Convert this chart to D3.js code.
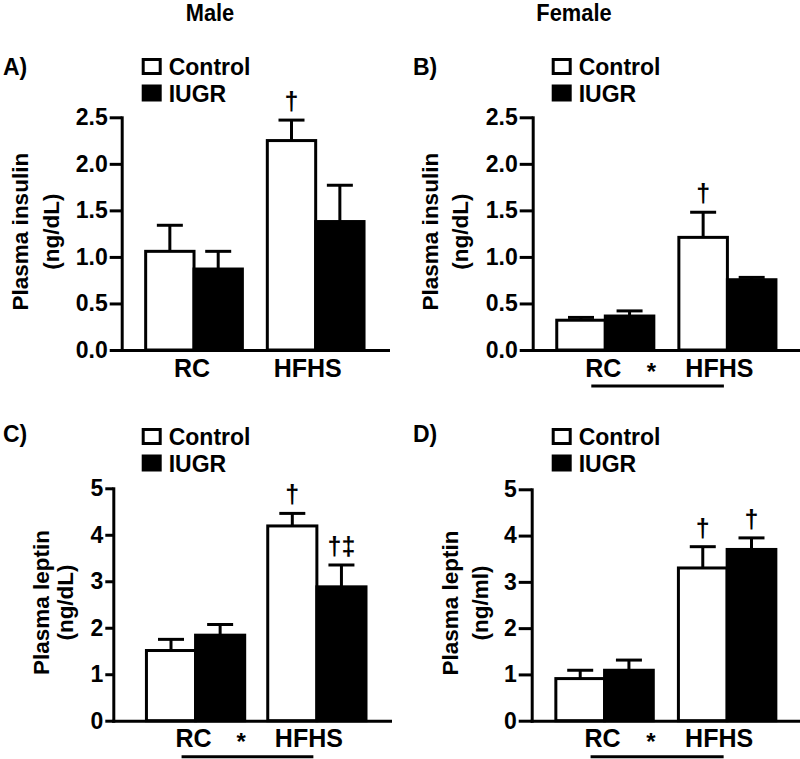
<!DOCTYPE html>
<html><head><meta charset="utf-8">
<script src="https://cdn.jsdelivr.net/npm/d3@7"></script>
<style>body{margin:0;background:#fff} svg{display:block}</style>
</head><body><svg id="c" width="800" height="759"></svg>
<script>
// ---------- data ----------
const categories = ["RC", "HFHS"];
const seriesNames = ["Control", "IUGR"];
const columnHeaders = ["Male", "Female"];
const panelLetters = ["A)", "B)", "C)", "D)"];
const yLabelLine1 = ["Plasma insulin", "Plasma insulin", "Plasma leptin", "Plasma leptin"];
const yLabelLine2 = ["(ng/dL)", "(ng/dL)", "(ng/dL)", "(ng/ml)"];
const insulinTicks = [0, 0.5, 1.0, 1.5, 2.0, 2.5];
const leptinTicks = [0, 1, 2, 3, 4, 5];

const maleInsulinControl = [1.06, 2.25];
const maleInsulinControlSEM = [0.28, 0.22];
const maleInsulinIUGR = [0.87, 1.38];
const maleInsulinIUGRSEM = [0.19, 0.39];

const femaleInsulinControl = [0.32, 1.21];
const femaleInsulinControlSEM = [0.03, 0.27];
const femaleInsulinIUGR = [0.365, 0.755];
const femaleInsulinIUGRSEM = [0.055, 0.025];

const maleLeptinControl = [1.51, 4.19];
const maleLeptinControlSEM = [0.24, 0.27];
const maleLeptinIUGR = [1.84, 2.88];
const maleLeptinIUGRSEM = [0.23, 0.47];

const femaleLeptinControl = [0.91, 3.30];
const femaleLeptinControlSEM = [0.18, 0.46];
const femaleLeptinIUGR = [1.09, 3.70];
const femaleLeptinIUGRSEM = [0.22, 0.25];

// significance symbols: [category, series, symbol]
const marksA = [["HFHS", "Control", "†"]];
const marksB = [["HFHS", "Control", "†"]];
const marksC = [["HFHS", "Control", "†"], ["HFHS", "IUGR", "†‡"]];
const marksD = [["HFHS", "Control", "†"], ["HFHS", "IUGR", "†"]];
const dietEffect = [false, true, true, true];

// ---------- layout ----------
const FONT = "'Liberation Sans', Arial, Helvetica, sans-serif";
const panels = [
  {means:[maleInsulinControl, maleInsulinIUGR], sems:[maleInsulinControlSEM, maleInsulinIUGRSEM], ticks:insulinTicks, fmt:".1f", marks:marksA,
   L:{x0:121.7, x1:388, y0:350, yTop:117.3, pi:0.205, po:0.197, align:0.5, tick:12, letterX:3, letterY:75, legX:141.7, legY:58, yl1:28, yl2:59}},
  {means:[femaleInsulinControl, femaleInsulinIUGR], sems:[femaleInsulinControlSEM, femaleInsulinIUGRSEM], ticks:insulinTicks, fmt:".1f", marks:marksB,
   L:{x0:532.7, x1:800, y0:350, yTop:117.3, pi:0.205, po:0.197, align:0.5, tick:13, letterX:413, letterY:75, legX:551.7, legY:58, yl1:438, yl2:468}},
  {means:[maleLeptinControl, maleLeptinIUGR], sems:[maleLeptinControlSEM, maleLeptinIUGRSEM], ticks:leptinTicks, fmt:"d", marks:marksC,
   L:{x0:113.3, x1:390, y0:720.7, yTop:488.3, pi:0.19, po:0.2355, align:0.58, tick:8, letterX:3, letterY:442, legX:141.7, legY:428, yl1:49, yl2:73}},
  {means:[femaleLeptinControl, femaleLeptinIUGR], sems:[femaleLeptinControlSEM, femaleLeptinIUGRSEM], ticks:leptinTicks, fmt:"d", marks:marksD,
   L:{x0:531.7, x1:800, y0:720.7, yTop:489.3, pi:0.205, po:0.197, align:0.5, tick:13, letterX:413, letterY:442, legX:551.7, legY:428, yl1:458, yl2:488}}
];
const labelShift = {RC: -2, HFHS: -8};
const fills = {Control: "#fff", IUGR: "#000"};

const svg = d3.select("#c");
svg.append("rect").attr("width", 800).attr("height", 759).attr("fill", "#fff");

// column headers
[210, 574].forEach((cx, i) => {
  svg.append("text").attr("x", cx).attr("y", 21.5).attr("text-anchor", "middle")
    .attr("font-family", FONT).attr("font-weight", "bold").attr("font-size", 23)
    .attr("transform", `translate(${cx},21.5) scale(0.95,1.08) translate(${-cx},-21.5)`)
    .text(columnHeaders[i]);
});

panels.forEach((p, pi) => {
  const L = p.L;
  const g = svg.append("g");
  const x = d3.scaleBand().domain(categories).range([L.x0, L.x1])
    .paddingInner(L.pi).paddingOuter(L.po).align(L.align);
  const xs = d3.scaleBand().domain(seriesNames).range([0, x.bandwidth()]);
  const y = d3.scaleLinear().domain([0, d3.max(p.ticks)]).range([L.y0, L.yTop]);

  const rows = [];
  categories.forEach((c, i) => seriesNames.forEach((s, j) => rows.push({c, s, v: p.means[j][i], e: p.sems[j][i]})));

  // error bars (upper only)
  const eb = g.append("g").attr("stroke", "#000").attr("stroke-width", 3);
  rows.forEach(r => {
    const cx = x(r.c) + xs(r.s) + xs.bandwidth() / 2;
    eb.append("line").attr("x1", cx).attr("x2", cx).attr("y1", y(r.v)).attr("y2", y(r.v + r.e));
    eb.append("line").attr("x1", cx - 13).attr("x2", cx + 13).attr("y1", y(r.v + r.e)).attr("y2", y(r.v + r.e));
  });

  // bars
  g.append("g").selectAll("rect").data(rows).join("rect")
    .attr("x", r => x(r.c) + xs(r.s)).attr("width", xs.bandwidth())
    .attr("y", r => y(r.v)).attr("height", r => L.y0 - y(r.v))
    .attr("fill", r => fills[r.s]).attr("stroke", "#000").attr("stroke-width", 3);

  // y axis
  const ya = g.append("g").attr("transform", `translate(${L.x0},0)`)
    .call(d3.axisLeft(y).tickValues(p.ticks).tickFormat(d3.format(p.fmt))
      .tickSize(L.tick).tickSizeOuter(0).tickPadding(2));
  ya.select(".domain").attr("stroke-width", 3).attr("stroke-linecap", "square");
  ya.selectAll(".tick line").attr("stroke-width", 3);
  ya.selectAll(".tick text").attr("font-family", FONT).attr("font-weight", "bold")
    .attr("font-size", 23).attr("fill", "#000");

  // x axis
  const xa = g.append("g").attr("transform", `translate(0,${L.y0})`)
    .call(d3.axisBottom(x).tickSize(0).tickSizeOuter(0).tickPadding(9));
  xa.select(".domain").attr("stroke-width", 3).attr("stroke-linecap", "square");
  xa.selectAll(".tick text").attr("font-family", FONT).attr("font-weight", "bold")
    .attr("font-size", 25).attr("fill", "#000").attr("dx", d => labelShift[d]);

  // y label
  const ym = (L.y0 + L.yTop) / 2 - 2;
  [[L.yl1, yLabelLine1[pi]], [L.yl2, yLabelLine2[pi]]].forEach(([bx, t]) => {
    g.append("text").attr("transform", `translate(${bx},${ym}) rotate(-90)`)
      .attr("text-anchor", "middle").attr("font-family", FONT).attr("font-weight", "bold")
      .attr("font-size", 22.5).text(t);
  });

  // panel letter
  g.append("text").attr("x", L.letterX).attr("y", L.letterY).attr("font-family", FONT)
    .attr("font-weight", "bold").attr("font-size", 23).text(panelLetters[pi]);

  // legend
  seriesNames.forEach((s, j) => {
    const top = L.legY + j * 26.5;
    g.append("rect").attr("x", L.legX + 1.5).attr("y", top + 1.5).attr("width", 17).attr("height", 14)
      .attr("fill", fills[s]).attr("stroke", "#000").attr("stroke-width", 3);
    g.append("text").attr("x", L.legX + 27).attr("y", top + 17).attr("font-family", FONT)
      .attr("font-weight", "bold").attr("font-size", 23).text(s);
  });

  // significance symbols
  p.marks.forEach(([c, s, sym]) => {
    const j = seriesNames.indexOf(s), i = categories.indexOf(c);
    const cx = x(c) + xs(s) + xs.bandwidth() / 2;
    g.append("text").attr("x", cx).attr("y", y(p.means[j][i] + p.sems[j][i]) - 10)
      .attr("text-anchor", "middle").attr("font-family", FONT).attr("font-weight", "bold")
      .attr("font-size", 25).text(sym);
  });

  // diet main effect
  if (dietEffect[pi]) {
    const c1 = x("RC") + x.bandwidth() / 2, c2 = x("HFHS") + x.bandwidth() / 2;
    g.append("text").attr("x", (c1 + c2) / 2 - 15).attr("y", L.y0 + 29.5).attr("text-anchor", "middle")
      .attr("font-family", FONT).attr("font-weight", "bold").attr("font-size", 24).text("*");
    g.append("line").attr("x1", c1 - 14).attr("x2", c2 - 3.5).attr("y1", L.y0 + 36).attr("y2", L.y0 + 36)
      .attr("stroke", "#000").attr("stroke-width", 3);
  }
});
</script></body></html>
